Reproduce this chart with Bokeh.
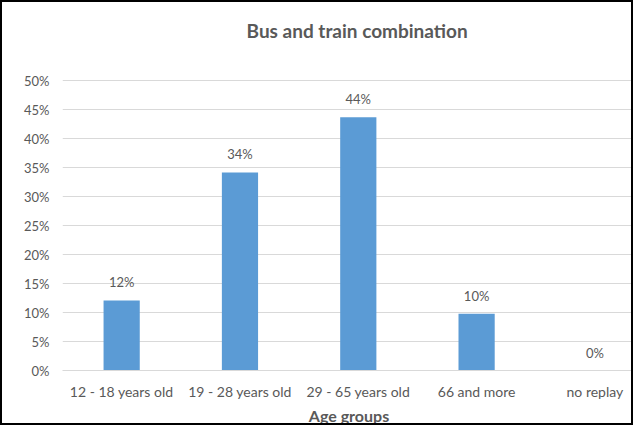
from bokeh.plotting import figure
from bokeh.models import ColumnDataSource, FixedTicker, LabelSet, Label, Range1d
from bokeh.core.properties import value
from bokeh.embed import file_html
from bokeh.resources import INLINE

categories = ["12 - 18 years old", "19 - 28 years old", "29 - 65 years old", "66 and more", "no replay"]
values = [12.1, 34.2, 43.7, 9.8, 0.0]
value_labels = ["12%", "34%", "44%", "10%", "0%"]
y_ticks = [0, 5, 10, 15, 20, 25, 30, 35, 40, 45, 50]
title_text = "Bus and train combination"

xs = list(range(len(categories)))
src = ColumnDataSource(dict(x=xs, v=values, lab=value_labels))

FONT = "Lato"
GRAY = "#595959"

# frame spans the full height above the axis; the 50% line lands where the reference has it,
# and the empty top part of the frame holds the title
Y_TOP = 63.53
p = figure(width=633, height=425, output_backend="svg", toolbar_location=None,
           x_range=Range1d(-0.5, 4.343), y_range=Range1d(0, Y_TOP),
           min_border_left=60, min_border_right=0, min_border_top=0, min_border_bottom=48)
p.styles = {"border": "2px solid #000", "box-sizing": "border-box"}
p.outline_line_color = None
p.background_fill_color = "white"
p.border_fill_color = "white"

p.add_layout(Label(x=1.99, y=58.7, text=title_text, text_align="center", text_baseline="middle",
                   text_font=FONT, text_font_size="19px", text_font_style="bold", text_color=GRAY))

p.vbar(x="x", top="v", width=0.306, source=src, color="#5b9bd5", line_color=None)

labels = LabelSet(x="x", y="v", text="lab", source=src, text_align="center", text_baseline="bottom",
                  y_offset=10, text_font=value(FONT), text_font_size=value("13px"), text_color=GRAY)
p.add_layout(labels)

p.xaxis.ticker = FixedTicker(ticks=xs)
p.xaxis.major_label_overrides = {i: c for i, c in enumerate(categories)}
p.xaxis.axis_label = "Age groups"
p.xaxis.axis_label_text_font = FONT
p.xaxis.axis_label_text_font_size = "16px"
p.xaxis.axis_label_text_font_style = "bold"
p.xaxis.axis_label_text_color = GRAY
p.xaxis.axis_label_standoff = 3
p.xaxis.major_label_standoff = 12
p.xaxis.major_label_text_font_size = "14px"
p.xaxis.axis_line_color = "#d9d9d9"

p.yaxis.ticker = FixedTicker(ticks=y_ticks)
p.yaxis.major_label_overrides = {t: f"{t}%" for t in y_ticks}
p.yaxis.axis_line_color = None
p.yaxis.major_label_standoff = 13
p.yaxis.major_label_text_font_size = "13px"

for ax in (p.xaxis, p.yaxis):
    ax.major_tick_line_color = None
    ax.minor_tick_line_color = None
    ax.major_tick_out = 0
    ax.major_tick_in = 0
    ax.minor_tick_out = 0
    ax.major_label_text_font = FONT
    ax.major_label_text_color = GRAY

p.xgrid.grid_line_color = None
p.ygrid.grid_line_color = "#d9d9d9"
p.ygrid.grid_line_width = 1

open("out.html", "w").write(file_html(p, INLINE))
